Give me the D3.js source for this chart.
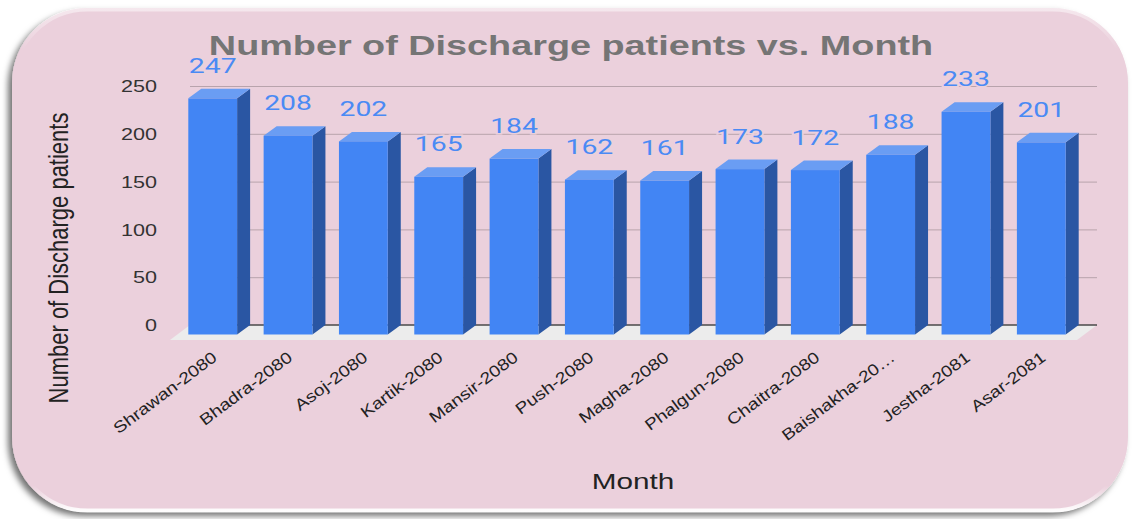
<!DOCTYPE html>
<html>
<head>
<meta charset="utf-8">
<script src="https://cdn.jsdelivr.net/npm/d3@7"></script>
<style>
  html, body { margin: 0; padding: 0; background: #ffffff; }
  svg { display: block; }
  text { font-family: "Liberation Sans", Arial, sans-serif; }
</style>
</head>
<body>
<svg id="chart" width="1132" height="519"></svg>
<script>
// data
const months = ["Shrawan-2080", "Bhadra-2080", "Asoj-2080", "Kartik-2080", "Mansir-2080", "Push-2080",
                "Magha-2080", "Phalgun-2080", "Chaitra-2080", "Baishakha-20\u2026", "Jestha-2081", "Asar-2081"];
const discharges = [247, 208, 202, 165, 184, 162, 161, 173, 172, 188, 233, 201];
const yTicks = [0, 50, 100, 150, 200, 250];

const chartTitle = "Number of Discharge patients vs. Month";
const xTitle = "Month";
const yTitle = "Number of Discharge patients";

const svg = d3.select("#chart");
const SX = 1.35;          // the source picture is stretched sideways
const depthX = 13, depthY = 9.5;   // 3d offset of the bar front
const gridLeft = 190, gridRight = 1097;

const defs = svg.append("defs");
const shadow = defs.append("filter").attr("id", "shadow")
    .attr("x", "-5%").attr("y", "-5%").attr("width", "110%").attr("height", "112%");
shadow.append("feDropShadow")
    .attr("dx", -4).attr("dy", 4).attr("stdDeviation", 3)
    .attr("flood-color", "#000").attr("flood-opacity", 0.55);

const edge = defs.append("linearGradient").attr("id", "edge")
    .attr("x1", 0).attr("y1", 0).attr("x2", 0).attr("y2", 1);
edge.append("stop").attr("offset", "0").attr("stop-color", "#fff").attr("stop-opacity", 0.5);
edge.append("stop").attr("offset", "0.08").attr("stop-color", "#fff").attr("stop-opacity", 0);
edge.append("stop").attr("offset", "0.95").attr("stop-color", "#fff").attr("stop-opacity", 0);
edge.append("stop").attr("offset", "1").attr("stop-color", "#fff").attr("stop-opacity", 0.95);

// card
svg.append("rect")
    .attr("x", 12).attr("y", 8).attr("width", 1116).attr("height", 504)
    .attr("rx", 75).attr("ry", 75)
    .attr("fill", "#ebd0dc")
    .attr("filter", "url(#shadow)");
svg.append("rect")
    .attr("x", 13.5).attr("y", 9.5).attr("width", 1113).attr("height", 501)
    .attr("rx", 74).attr("ry", 74)
    .attr("fill", "none")
    .attr("stroke", "url(#edge)")
    .attr("stroke-width", 4);

const x = d3.scaleBand()
    .domain(months)
    .range([gridLeft, 1090])
    .paddingInner(0.352)
    .paddingOuter(0.15);

const y = d3.scaleLinear()
    .domain([0, 250])
    .range([325, 86]);

// gridlines + y labels
const yAxis = svg.append("g")
    .attr("transform", `translate(${gridLeft},0)`)
    .call(d3.axisLeft(y).tickValues(yTicks).tickSizeInner(-(gridRight - gridLeft)).tickSizeOuter(0).tickPadding(0));
yAxis.select(".domain").remove();
yAxis.selectAll(".tick line")
    .attr("stroke", "#b8a3ac")
    .attr("stroke-width", 1);
yAxis.selectAll(".tick text")
    .attr("x", -33 / SX)
    .attr("dy", "0.35em")
    .attr("transform", `scale(${SX},1)`)
    .attr("fill", "#333")
    .style("font-size", "16px")
    .style("font-family", "'Liberation Sans', Arial, sans-serif");

// floor
const y0 = y(0);
svg.append("polygon")
    .attr("points", [[gridLeft, y0], [gridRight, y0], [gridRight - 20, y0 + 15], [gridLeft - 20, y0 + 15]].join(" "))
    .attr("fill", "#ececec");
svg.append("line")
    .attr("x1", gridLeft).attr("x2", gridRight)
    .attr("y1", y0).attr("y2", y0)
    .attr("stroke", "#4a4a4a").attr("stroke-width", 1.5);

// 3d bars
const bw = x.bandwidth();
const bars = svg.append("g").selectAll("g")
    .data(months.map((m, i) => ({ month: m, value: discharges[i] })))
    .join("g");

bars.append("polygon")   // side
    .attr("points", d => {
        const r = x(d.month) + bw, t = y(d.value);
        return [[r - depthX, t + depthY], [r, t], [r, y0], [r - depthX, y0 + depthY]].join(" ");
    })
    .attr("fill", "#2a56a3");

bars.append("polygon")   // top
    .attr("points", d => {
        const l = x(d.month), t = y(d.value);
        return [[l - depthX, t + depthY], [l, t], [l + bw, t], [l + bw - depthX, t + depthY]].join(" ");
    })
    .attr("fill", "#6a9df3");

bars.append("rect")      // front
    .attr("x", d => x(d.month) - depthX)
    .attr("y", d => y(d.value) + depthY)
    .attr("width", bw)
    .attr("height", d => y0 - y(d.value))
    .attr("fill", "#4285f4");

// value labels
svg.append("g").selectAll("text")
    .data(months.map((m, i) => ({ month: m, value: discharges[i] })))
    .join("text")
    .attr("transform", d => `translate(${x(d.month) - depthX + bw / 2},${y(d.value) - 16}) scale(${SX},1)`)
    .attr("text-anchor", "middle")
    .attr("fill", "#4a8af4")
    .attr("stroke", "#ebd0dc")
    .attr("stroke-width", 3)
    .attr("paint-order", "stroke")
    .style("font-size", "21px")
    .style("font-family", "Roboto, 'Liberation Sans', sans-serif")
    .text(d => d.value);

// x labels
svg.append("g").selectAll("text")
    .data(months)
    .join("text")
    .attr("transform", d => `translate(${x(d) - depthX + bw / 2 + 2},355) rotate(-37) scale(1.2,1)`)
    .attr("text-anchor", "end")
    .attr("dy", "0.35em")
    .attr("fill", "#222")
    .style("font-size", "16px")
    .text(d => d);

// titles
svg.append("text")
    .attr("transform", `translate(571,55) scale(${SX},1)`)
    .attr("text-anchor", "middle")
    .attr("fill", "#757575")
    .style("font-size", "28px")
    .style("font-weight", "bold")
    .text(chartTitle);

svg.append("text")
    .attr("transform", `translate(633,489) scale(${SX},1)`)
    .attr("text-anchor", "middle")
    .attr("fill", "#222")
    .style("font-size", "22px")
    .text(xTitle);

svg.append("text")
    .attr("transform", `translate(68,258) scale(${SX * 0.95},1) rotate(-90)`)
    .attr("text-anchor", "middle")
    .attr("fill", "#222")
    .style("font-size", "22px")
    .text(yTitle);
</script>
</body>
</html>
